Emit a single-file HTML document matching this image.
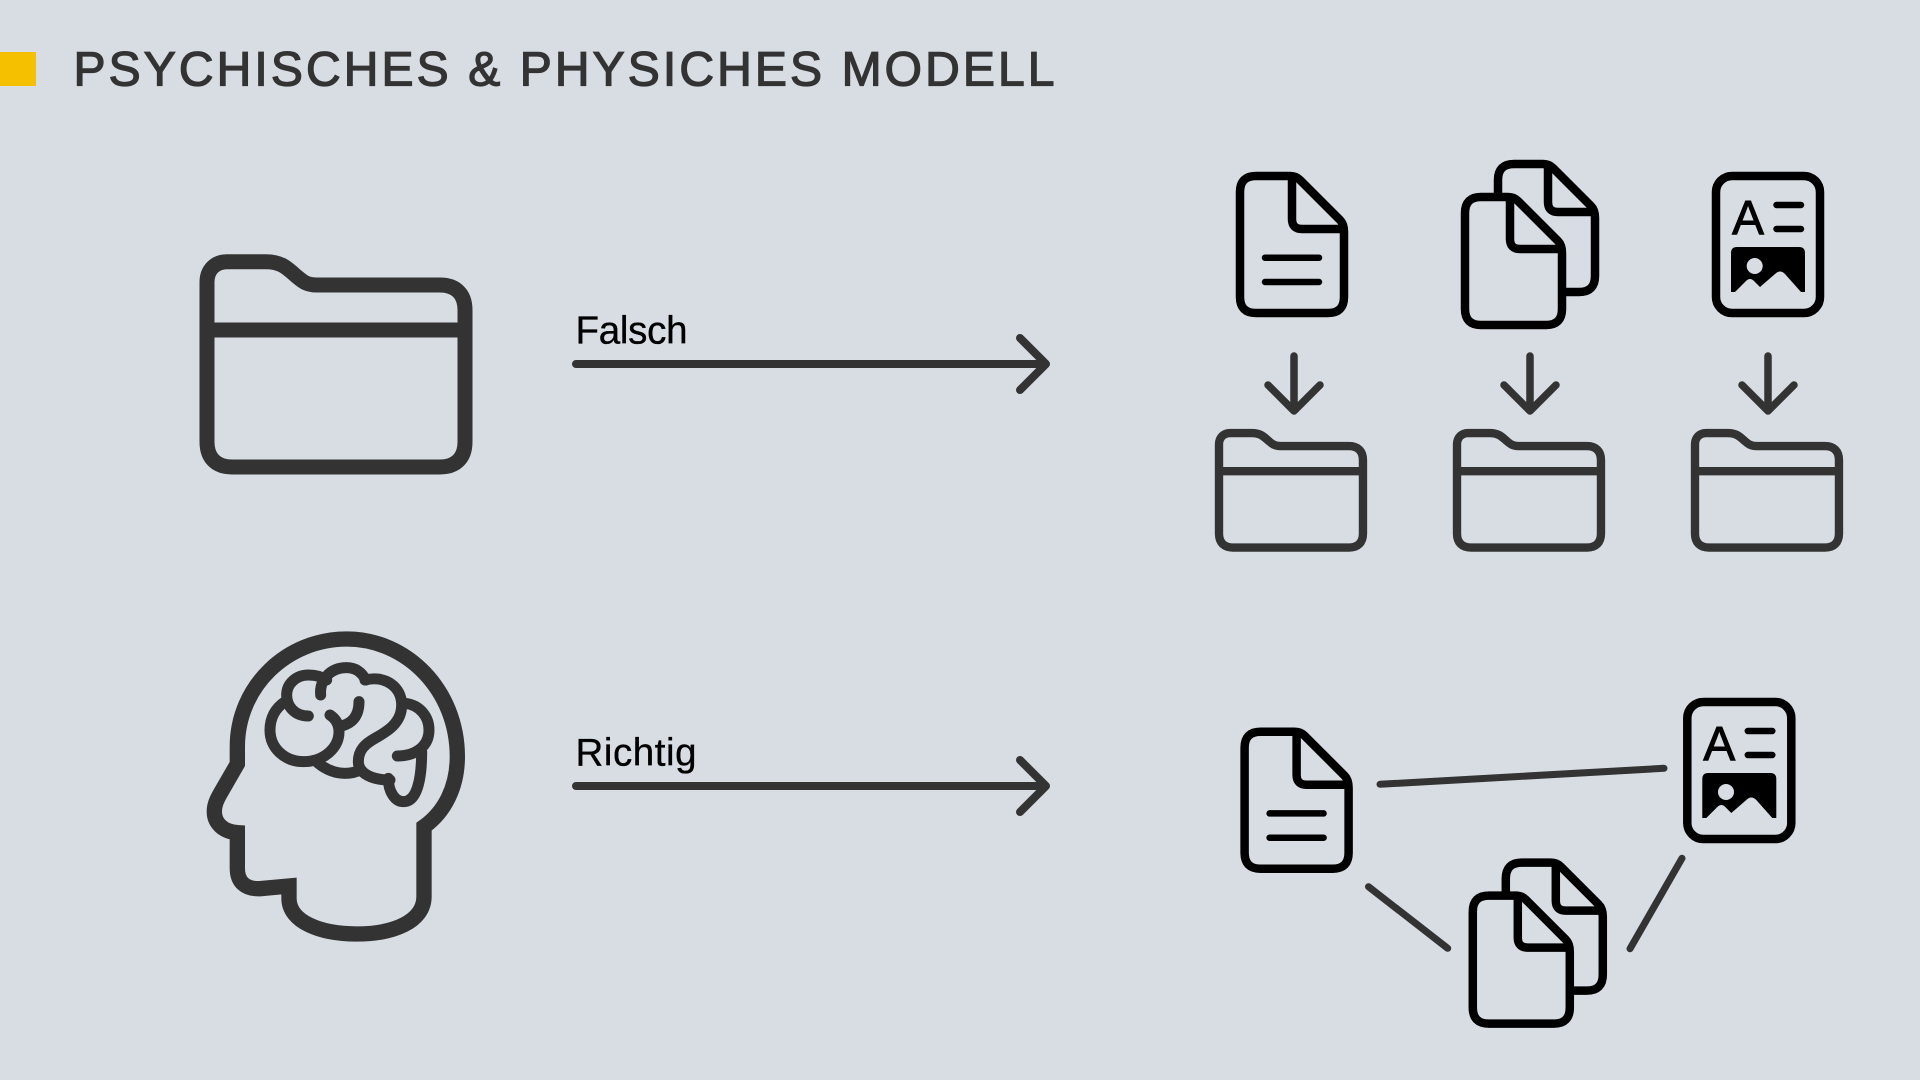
<!DOCTYPE html>
<html lang="de">
<head>
<meta charset="utf-8">
<title>Psychisches &amp; Physiches Modell</title>
<style>
html,body{margin:0;padding:0;background:#d8dde4;width:1920px;height:1080px;overflow:hidden}
svg{display:block}
text{font-family:"Liberation Sans",sans-serif}
</style>
</head>
<body>
<svg width="1920" height="1080" viewBox="0 0 1920 1080" xmlns="http://www.w3.org/2000/svg">
<defs>
  <g id="folder" fill="none" stroke="#333" stroke-width="15">
    <path d="M227 261.7H266C281 261.7 287 268 295 275C302 281 306 285 317 285H440C456 285 465 294 465 310V442C465 458 456 467 440 467H232C216 467 207 458 207 442V282C207 270 215 261.7 227 261.7Z"/>
    <path d="M207 330H465"/>
  </g>
  <g id="doc" fill="none" stroke="#000" stroke-width="8.5" stroke-linecap="round">
    <path d="M1256 176H1290Q1296 176 1300 180L1340 220Q1344 224 1344 232V297Q1344 313 1328 313H1256Q1240 313 1240 297V192Q1240 176 1256 176Z"/>
    <path stroke-linecap="butt" d="M1292 176V219Q1292 229 1302 229H1344"/>
    <path stroke-width="6.5" d="M1265 257.7H1319M1265 282H1319"/>
  </g>
  <g id="docs" fill="none" stroke="#000" stroke-width="8.5">
    <path d="M1498 194V180Q1498 164 1514 164H1543Q1549 164 1553 168L1591 206Q1595 210 1595 218V276Q1595 292 1579 292H1565"/>
    <path d="M1548 164V202Q1548 212 1558 212H1595"/>
    <path d="M1481 197H1508Q1514 197 1518 201L1558 241Q1562 245 1562 253V309Q1562 325 1546 325H1481Q1465 325 1465 309V213Q1465 197 1481 197Z"/>
    <path d="M1510 197V239Q1510 249 1520 249H1562"/>
  </g>
  <g id="imgdoc">
    <rect x="1716" y="176" width="104" height="137" rx="16" fill="none" stroke="#000" stroke-width="8.5"/>
    <text x="1732" y="234" font-size="48" fill="#000" stroke="#000" stroke-width="0.9">A</text>
    <path d="M1776.5 205H1801M1776.5 229H1801" stroke="#000" stroke-width="6.5" stroke-linecap="round" fill="none"/>
    <path d="M1731 292V253Q1731 247 1737 247H1799Q1805 247 1805 253V292H1801L1785 274Q1780 269 1775 274L1760 287L1754 281Q1750 277 1746 281L1735 292Z" fill="#000"/>
    <circle cx="1754.7" cy="266" r="8" fill="#d8dde4"/>
  </g>
  <path id="bigarrow" d="M576 0H1046M1020 -26L1046 0L1020 26" fill="none" stroke="#333" stroke-width="8" stroke-linecap="round" stroke-linejoin="round"/>
  <path id="downarrow" d="M1294 356V410M1268 385L1294 411L1320 385" fill="none" stroke="#333" stroke-width="7.5" stroke-linecap="round" stroke-linejoin="round"/>
</defs>

<rect width="1920" height="1080" fill="#d8dde4"/>

<!-- Title -->
<rect x="0" y="52" width="36" height="34" fill="#f5c000"/>
<text x="73.5" y="85.7" font-size="48" fill="#333" stroke="#333" stroke-width="1.3" textLength="981" lengthAdjust="spacing">PSYCHISCHES &amp; PHYSICHES MODELL</text>

<!-- Big folder -->
<use href="#folder"/>

<!-- Arrows and labels -->
<use href="#bigarrow" transform="translate(0,364)"/>
<text x="575.5" y="343.3" font-size="38.5" fill="#000" stroke="#000" stroke-width="0.35" textLength="112" lengthAdjust="spacing">Falsch</text>
<use href="#bigarrow" transform="translate(0,786)"/>
<text x="575.5" y="765.7" font-size="38.5" fill="#000" stroke="#000" stroke-width="0.35" textLength="121" lengthAdjust="spacing">Richtig</text>

<!-- Top right documents -->
<use href="#doc"/>
<use href="#docs"/>
<use href="#imgdoc"/>

<use href="#downarrow"/>
<use href="#downarrow" x="236"/>
<use href="#downarrow" x="474"/>

<use href="#folder" transform="translate(1103.5,287) scale(.558)"/>
<use href="#folder" transform="translate(1341.5,287) scale(.558)"/>
<use href="#folder" transform="translate(1579.5,287) scale(.558)"/>

<!-- Head with brain -->
<g transform="translate(190,620) scale(.33333)" fill="none" stroke="#333">
  <path stroke-width="46" stroke-linejoin="miter" d="M142 432V380C142 200 290 57 470 57C650 57 802 210 802 410C802 500 765 575 702 620V830C702 905 610 942 500 942C390 942 297 905 297 835V798L210 806C165 808 142 785 142 745V638C100 635 73 610 73 575C73 555 80 540 90 522L142 432Z"/>
  <g stroke-width="33" stroke-linecap="round" stroke-linejoin="round">
    <path d="M285 245C255 265 240 295 240 330C240 385 285 425 340 425C400 425 447 385 447 335C447 310 435 295 420 285"/>
    <path d="M447 320C485 312 507 290 507 245"/>
    <path d="M355 288C315 288 290 260 290 225C290 190 320 165 355 165C375 165 395 170 410 180"/>
    <path d="M392 225C388 180 420 143 470 143C495 143 515 155 527 180"/>
    <path d="M525 180C585 165 635 200 635 255C635 310 590 335 555 355C525 372 505 390 505 425C505 460 545 480 600 480"/>
    <path d="M595 475C595 515 615 545 640 545C680 545 695 480 695 395"/>
    <path d="M645 250C690 255 717 290 717 330C717 380 675 408 622 408"/>
    <path d="M385 430C410 450 435 460 465 460C480 460 495 458 510 450"/>
  </g>
</g>

<!-- Bottom network -->
<use href="#doc" transform="translate(4.6,555.7)"/>
<use href="#docs" transform="translate(7.8,698.6)"/>
<use href="#imgdoc" transform="translate(-28.7,526)"/>
<g stroke="#333" stroke-width="7" stroke-linecap="round" fill="none">
  <path d="M1380 784.3L1664 768.3"/>
  <path d="M1368.5 886.7L1447.7 948.3"/>
  <path d="M1682 858.3L1630 948.7"/>
</g>
</svg>
</body>
</html>
